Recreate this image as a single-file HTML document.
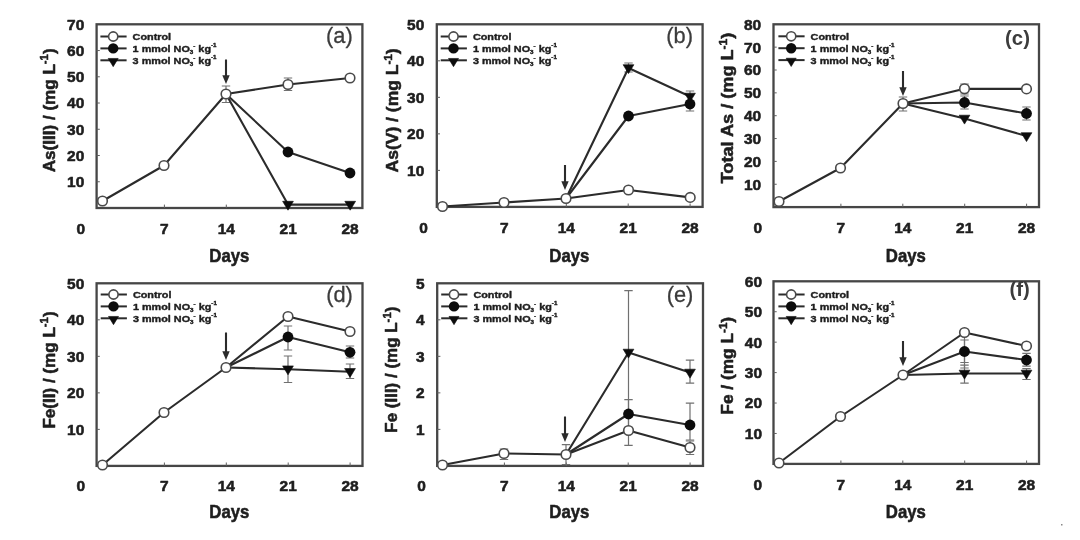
<!DOCTYPE html>
<html><head><meta charset="utf-8"><title>Figure</title>
<style>
html,body{margin:0;padding:0;background:#fff;}
body{width:1080px;height:540px;overflow:hidden;}
svg{display:block;filter:blur(0.5px);font-family:"Liberation Sans",sans-serif;fill:#1e1e1e;}
</style></head><body>
<svg width="1080" height="540" viewBox="0 0 1080 540">
<rect x="0" y="0" width="1080" height="540" fill="#fff"/>
<rect x="96.6" y="24.3" width="265.79999999999995" height="183.7" fill="none" stroke="#464646" stroke-width="2.3"/>
<path d="M96.6,181.75714285714287 L99.8,181.75714285714287" stroke="#606060" stroke-width="1.0"/>
<text transform="translate(84.3,187.15714285714287) scale(1.06,1)" font-size="14.6" font-weight="bold" text-anchor="end" stroke="#1e1e1e" stroke-width="0.55" stroke-linejoin="round" >10</text>
<path d="M96.6,155.51428571428573 L99.8,155.51428571428573" stroke="#606060" stroke-width="1.0"/>
<text transform="translate(84.3,160.91428571428574) scale(1.06,1)" font-size="14.6" font-weight="bold" text-anchor="end" stroke="#1e1e1e" stroke-width="0.55" stroke-linejoin="round" >20</text>
<path d="M96.6,129.2714285714286 L99.8,129.2714285714286" stroke="#606060" stroke-width="1.0"/>
<text transform="translate(84.3,134.6714285714286) scale(1.06,1)" font-size="14.6" font-weight="bold" text-anchor="end" stroke="#1e1e1e" stroke-width="0.55" stroke-linejoin="round" >30</text>
<path d="M96.6,103.02857142857144 L99.8,103.02857142857144" stroke="#606060" stroke-width="1.0"/>
<text transform="translate(84.3,108.42857142857144) scale(1.06,1)" font-size="14.6" font-weight="bold" text-anchor="end" stroke="#1e1e1e" stroke-width="0.55" stroke-linejoin="round" >40</text>
<path d="M96.6,76.78571428571428 L99.8,76.78571428571428" stroke="#606060" stroke-width="1.0"/>
<text transform="translate(84.3,82.18571428571428) scale(1.06,1)" font-size="14.6" font-weight="bold" text-anchor="end" stroke="#1e1e1e" stroke-width="0.55" stroke-linejoin="round" >50</text>
<path d="M96.6,50.54285714285717 L99.8,50.54285714285717" stroke="#606060" stroke-width="1.0"/>
<text transform="translate(84.3,55.94285714285717) scale(1.06,1)" font-size="14.6" font-weight="bold" text-anchor="end" stroke="#1e1e1e" stroke-width="0.55" stroke-linejoin="round" >60</text>
<text transform="translate(84.3,29.70000000000001) scale(1.06,1)" font-size="14.6" font-weight="bold" text-anchor="end" stroke="#1e1e1e" stroke-width="0.55" stroke-linejoin="round" >70</text>
<path d="M164.4,208.0 L164.4,204.6" stroke="#606060" stroke-width="1.0"/>
<text transform="translate(164.4,233.6) scale(1.06,1)" font-size="14.6" font-weight="bold" text-anchor="middle" stroke="#1e1e1e" stroke-width="0.55" stroke-linejoin="round" >7</text>
<path d="M226.3,208.0 L226.3,204.6" stroke="#606060" stroke-width="1.0"/>
<text transform="translate(226.3,233.6) scale(1.06,1)" font-size="14.6" font-weight="bold" text-anchor="middle" stroke="#1e1e1e" stroke-width="0.55" stroke-linejoin="round" >14</text>
<path d="M288.2,208.0 L288.2,204.6" stroke="#606060" stroke-width="1.0"/>
<text transform="translate(288.2,233.6) scale(1.06,1)" font-size="14.6" font-weight="bold" text-anchor="middle" stroke="#1e1e1e" stroke-width="0.55" stroke-linejoin="round" >21</text>
<path d="M350.1,208.0 L350.1,204.6" stroke="#606060" stroke-width="1.0"/>
<text transform="translate(350.1,233.6) scale(1.06,1)" font-size="14.6" font-weight="bold" text-anchor="middle" stroke="#1e1e1e" stroke-width="0.55" stroke-linejoin="round" >28</text>
<text transform="translate(80.89999999999999,233.6) scale(1.06,1)" font-size="14.6" font-weight="bold" text-anchor="middle" stroke="#1e1e1e" stroke-width="0.55" stroke-linejoin="round" >0</text>
<text transform="translate(229.3,262.3) scale(0.93,1)" font-size="18" font-weight="bold" text-anchor="middle" stroke="#1e1e1e" stroke-width="0.55" stroke-linejoin="round" >Days</text>
<text transform="translate(54.5,110.3) rotate(-90) scale(1.035,1)" font-size="16.5" font-weight="bold" text-anchor="middle" stroke="#1e1e1e" stroke-width="0.55" stroke-linejoin="round" >As(III) / (mg L<tspan font-size="11" dy="-6.5">-1</tspan><tspan dy="6.5">)</tspan></text>
<text transform="translate(339.4,42.8) scale(0.97,1)" font-size="22.5" font-weight="normal" text-anchor="middle" stroke="#3c3c3c" stroke-width="0.3" stroke-linejoin="round" fill="#3c3c3c">(a)</text>
<path d="M100.4,36.5 L126.60000000000001,36.5" stroke="#2b2b2b" stroke-width="2.0"/>
<circle cx="113.2" cy="36.5" r="4.6" fill="#fff" stroke="#4a4a4a" stroke-width="1.6"/>
<text transform="translate(132.60000000000002,40.0) scale(1.13,1)" font-size="9.6" font-weight="bold" text-anchor="start" stroke="#1e1e1e" stroke-width="0.4" stroke-linejoin="round" >Control</text>
<path d="M100.4,48.4 L126.60000000000001,48.4" stroke="#2b2b2b" stroke-width="2.0"/>
<circle cx="113.2" cy="48.4" r="5.199999999999999" fill="#0c0c0c"/>
<text transform="translate(132.60000000000002,51.9) scale(1.13,1)" font-size="9.6" font-weight="bold" text-anchor="start" stroke="#1e1e1e" stroke-width="0.4" stroke-linejoin="round" >1 mmol NO<tspan font-size="5.5" dy="2.2">3</tspan><tspan font-size="5.5" dy="-6">-</tspan><tspan dy="3.8"> kg</tspan><tspan font-size="5.5" dy="-4.6">-1</tspan></text>
<path d="M100.4,60.3 L126.60000000000001,60.3" stroke="#2b2b2b" stroke-width="2.0"/>
<path d="M108.2,58.44444444444444 L118.2,58.44444444444444 L113.2,66.68518518518519 Z" fill="#0c0c0c" stroke="#0c0c0c" stroke-width="0.6" stroke-linejoin="round"/>
<text transform="translate(132.60000000000002,63.8) scale(1.13,1)" font-size="9.6" font-weight="bold" text-anchor="start" stroke="#1e1e1e" stroke-width="0.4" stroke-linejoin="round" >3 mmol NO<tspan font-size="5.5" dy="2.2">3</tspan><tspan font-size="5.5" dy="-6">-</tspan><tspan dy="3.8"> kg</tspan><tspan font-size="5.5" dy="-4.6">-1</tspan></text>
<path d="M226,59.5 L226,79" stroke="#2b2b2b" stroke-width="2.1" fill="none"/><path d="M222.3,75.2 L229.7,75.2 L226,84 Z" fill="#2b2b2b"/>
<path d="M226,86 L226,102.5 M221.8,86 L230.2,86 M221.8,102.5 L230.2,102.5" stroke="#707070" stroke-width="1.2" fill="none"/>
<path d="M288,78 L288,90.5 M283.8,78 L292.2,78 M283.8,90.5 L292.2,90.5" stroke="#707070" stroke-width="1.2" fill="none"/>
<polyline points="102.5,201 164,165.5 226,94 288,84.5 350,78" fill="none" stroke="#2b2b2b" stroke-width="2.1" stroke-linejoin="round"/>
<polyline points="226,94 288,152 350,173" fill="none" stroke="#2b2b2b" stroke-width="2.1" stroke-linejoin="round"/>
<polyline points="226,94 288,204.6 350.2,204.6" fill="none" stroke="#2b2b2b" stroke-width="2.1" stroke-linejoin="round"/>
<path d="M282.6,201.29999999999998 L293.4,201.29999999999998 L288,210.2 Z" fill="#0c0c0c" stroke="#0c0c0c" stroke-width="0.6" stroke-linejoin="round"/>
<path d="M344.8,201.29999999999998 L355.59999999999997,201.29999999999998 L350.2,210.2 Z" fill="#0c0c0c" stroke="#0c0c0c" stroke-width="0.6" stroke-linejoin="round"/>
<circle cx="288" cy="152" r="5.3999999999999995" fill="#0c0c0c"/>
<circle cx="350" cy="173" r="5.3999999999999995" fill="#0c0c0c"/>
<circle cx="102.5" cy="201" r="4.8" fill="#fff" stroke="#4a4a4a" stroke-width="1.6"/>
<circle cx="164" cy="165.5" r="4.8" fill="#fff" stroke="#4a4a4a" stroke-width="1.6"/>
<circle cx="226" cy="94" r="4.8" fill="#fff" stroke="#4a4a4a" stroke-width="1.6"/>
<circle cx="288" cy="84.5" r="4.8" fill="#fff" stroke="#4a4a4a" stroke-width="1.6"/>
<circle cx="350" cy="78" r="4.8" fill="#fff" stroke="#4a4a4a" stroke-width="1.6"/>
<rect x="436.8" y="24.3" width="265.8" height="182.6" fill="none" stroke="#464646" stroke-width="2.3"/>
<path d="M436.8,170.38 L440.0,170.38" stroke="#606060" stroke-width="1.0"/>
<text transform="translate(424.3,175.78) scale(1.06,1)" font-size="14.6" font-weight="bold" text-anchor="end" stroke="#1e1e1e" stroke-width="0.55" stroke-linejoin="round" >10</text>
<path d="M436.8,133.86 L440.0,133.86" stroke="#606060" stroke-width="1.0"/>
<text transform="translate(424.3,139.26000000000002) scale(1.06,1)" font-size="14.6" font-weight="bold" text-anchor="end" stroke="#1e1e1e" stroke-width="0.55" stroke-linejoin="round" >20</text>
<path d="M436.8,97.34000000000002 L440.0,97.34000000000002" stroke="#606060" stroke-width="1.0"/>
<text transform="translate(424.3,102.74000000000002) scale(1.06,1)" font-size="14.6" font-weight="bold" text-anchor="end" stroke="#1e1e1e" stroke-width="0.55" stroke-linejoin="round" >30</text>
<path d="M436.8,60.82000000000002 L440.0,60.82000000000002" stroke="#606060" stroke-width="1.0"/>
<text transform="translate(424.3,66.22000000000003) scale(1.06,1)" font-size="14.6" font-weight="bold" text-anchor="end" stroke="#1e1e1e" stroke-width="0.55" stroke-linejoin="round" >40</text>
<text transform="translate(424.3,29.70000000000001) scale(1.06,1)" font-size="14.6" font-weight="bold" text-anchor="end" stroke="#1e1e1e" stroke-width="0.55" stroke-linejoin="round" >50</text>
<path d="M504.4,206.9 L504.4,203.5" stroke="#606060" stroke-width="1.0"/>
<text transform="translate(504.4,233.1) scale(1.06,1)" font-size="14.6" font-weight="bold" text-anchor="middle" stroke="#1e1e1e" stroke-width="0.55" stroke-linejoin="round" >7</text>
<path d="M566.3,206.9 L566.3,203.5" stroke="#606060" stroke-width="1.0"/>
<text transform="translate(566.3,233.1) scale(1.06,1)" font-size="14.6" font-weight="bold" text-anchor="middle" stroke="#1e1e1e" stroke-width="0.55" stroke-linejoin="round" >14</text>
<path d="M628.2,206.9 L628.2,203.5" stroke="#606060" stroke-width="1.0"/>
<text transform="translate(628.2,233.1) scale(1.06,1)" font-size="14.6" font-weight="bold" text-anchor="middle" stroke="#1e1e1e" stroke-width="0.55" stroke-linejoin="round" >21</text>
<path d="M690.1,206.9 L690.1,203.5" stroke="#606060" stroke-width="1.0"/>
<text transform="translate(690.1,233.1) scale(1.06,1)" font-size="14.6" font-weight="bold" text-anchor="middle" stroke="#1e1e1e" stroke-width="0.55" stroke-linejoin="round" >28</text>
<text transform="translate(423.5,233.1) scale(1.06,1)" font-size="14.6" font-weight="bold" text-anchor="middle" stroke="#1e1e1e" stroke-width="0.55" stroke-linejoin="round" >0</text>
<text transform="translate(569.3,262.3) scale(0.93,1)" font-size="18" font-weight="bold" text-anchor="middle" stroke="#1e1e1e" stroke-width="0.55" stroke-linejoin="round" >Days</text>
<text transform="translate(398,110.4) rotate(-90) scale(1.06,1)" font-size="16.5" font-weight="bold" text-anchor="middle" stroke="#1e1e1e" stroke-width="0.55" stroke-linejoin="round" >As(V) / (mg L<tspan font-size="11" dy="-6.5">-1</tspan><tspan dy="6.5">)</tspan></text>
<text transform="translate(679.6,42.8) scale(0.97,1)" font-size="22.5" font-weight="normal" text-anchor="middle" stroke="#3c3c3c" stroke-width="0.3" stroke-linejoin="round" fill="#3c3c3c">(b)</text>
<path d="M440.7,36.5 L466.9,36.5" stroke="#2b2b2b" stroke-width="2.0"/>
<circle cx="453.5" cy="36.5" r="4.6" fill="#fff" stroke="#4a4a4a" stroke-width="1.6"/>
<text transform="translate(472.9,40.0) scale(1.13,1)" font-size="9.6" font-weight="bold" text-anchor="start" stroke="#1e1e1e" stroke-width="0.4" stroke-linejoin="round" >Control</text>
<path d="M440.7,48.4 L466.9,48.4" stroke="#2b2b2b" stroke-width="2.0"/>
<circle cx="453.5" cy="48.4" r="5.199999999999999" fill="#0c0c0c"/>
<text transform="translate(472.9,51.9) scale(1.13,1)" font-size="9.6" font-weight="bold" text-anchor="start" stroke="#1e1e1e" stroke-width="0.4" stroke-linejoin="round" >1 mmol NO<tspan font-size="5.5" dy="2.2">3</tspan><tspan font-size="5.5" dy="-6">-</tspan><tspan dy="3.8"> kg</tspan><tspan font-size="5.5" dy="-4.6">-1</tspan></text>
<path d="M440.7,60.3 L466.9,60.3" stroke="#2b2b2b" stroke-width="2.0"/>
<path d="M448.5,58.44444444444444 L458.5,58.44444444444444 L453.5,66.68518518518519 Z" fill="#0c0c0c" stroke="#0c0c0c" stroke-width="0.6" stroke-linejoin="round"/>
<text transform="translate(472.9,63.8) scale(1.13,1)" font-size="9.6" font-weight="bold" text-anchor="start" stroke="#1e1e1e" stroke-width="0.4" stroke-linejoin="round" >3 mmol NO<tspan font-size="5.5" dy="2.2">3</tspan><tspan font-size="5.5" dy="-6">-</tspan><tspan dy="3.8"> kg</tspan><tspan font-size="5.5" dy="-4.6">-1</tspan></text>
<path d="M565,165 L565,185" stroke="#2b2b2b" stroke-width="2.1" fill="none"/><path d="M561.3,181.2 L568.7,181.2 L565,190 Z" fill="#2b2b2b"/>
<path d="M628.5,63 L628.5,72 M624.3,63 L632.7,63 M624.3,72 L632.7,72" stroke="#707070" stroke-width="1.2" fill="none"/>
<path d="M690,91 L690,111 M685.8,91 L694.2,91 M685.8,111 L694.2,111" stroke="#707070" stroke-width="1.2" fill="none"/>
<polyline points="442.5,206.5 504,202.5 566,198.5 628.5,190 690.2,197.4" fill="none" stroke="#2b2b2b" stroke-width="2.1" stroke-linejoin="round"/>
<polyline points="566,198.5 628.5,116 690,104" fill="none" stroke="#2b2b2b" stroke-width="2.1" stroke-linejoin="round"/>
<polyline points="566,198.5 628.5,68 690,96.5" fill="none" stroke="#2b2b2b" stroke-width="2.1" stroke-linejoin="round"/>
<path d="M623.1,64.7 L633.9,64.7 L628.5,73.6 Z" fill="#0c0c0c" stroke="#0c0c0c" stroke-width="0.6" stroke-linejoin="round"/>
<path d="M684.6,93.2 L695.4,93.2 L690,102.1 Z" fill="#0c0c0c" stroke="#0c0c0c" stroke-width="0.6" stroke-linejoin="round"/>
<circle cx="628.5" cy="116" r="5.3999999999999995" fill="#0c0c0c"/>
<circle cx="690" cy="104" r="5.3999999999999995" fill="#0c0c0c"/>
<circle cx="442.5" cy="206.5" r="4.8" fill="#fff" stroke="#4a4a4a" stroke-width="1.6"/>
<circle cx="504" cy="202.5" r="4.8" fill="#fff" stroke="#4a4a4a" stroke-width="1.6"/>
<circle cx="566" cy="198.5" r="4.8" fill="#fff" stroke="#4a4a4a" stroke-width="1.6"/>
<circle cx="628.5" cy="190" r="4.8" fill="#fff" stroke="#4a4a4a" stroke-width="1.6"/>
<circle cx="690.2" cy="197.4" r="4.8" fill="#fff" stroke="#4a4a4a" stroke-width="1.6"/>
<rect x="773.5" y="24.3" width="265.5" height="182.79999999999998" fill="none" stroke="#464646" stroke-width="2.3"/>
<path d="M773.5,184.25 L776.7,184.25" stroke="#606060" stroke-width="1.0"/>
<text transform="translate(761.2,189.65) scale(1.06,1)" font-size="14.6" font-weight="bold" text-anchor="end" stroke="#1e1e1e" stroke-width="0.55" stroke-linejoin="round" >10</text>
<path d="M773.5,161.4 L776.7,161.4" stroke="#606060" stroke-width="1.0"/>
<text transform="translate(761.2,166.8) scale(1.06,1)" font-size="14.6" font-weight="bold" text-anchor="end" stroke="#1e1e1e" stroke-width="0.55" stroke-linejoin="round" >20</text>
<path d="M773.5,138.55 L776.7,138.55" stroke="#606060" stroke-width="1.0"/>
<text transform="translate(761.2,143.95000000000002) scale(1.06,1)" font-size="14.6" font-weight="bold" text-anchor="end" stroke="#1e1e1e" stroke-width="0.55" stroke-linejoin="round" >30</text>
<path d="M773.5,115.7 L776.7,115.7" stroke="#606060" stroke-width="1.0"/>
<text transform="translate(761.2,121.10000000000001) scale(1.06,1)" font-size="14.6" font-weight="bold" text-anchor="end" stroke="#1e1e1e" stroke-width="0.55" stroke-linejoin="round" >40</text>
<path d="M773.5,92.85000000000001 L776.7,92.85000000000001" stroke="#606060" stroke-width="1.0"/>
<text transform="translate(761.2,98.25000000000001) scale(1.06,1)" font-size="14.6" font-weight="bold" text-anchor="end" stroke="#1e1e1e" stroke-width="0.55" stroke-linejoin="round" >50</text>
<path d="M773.5,70.0 L776.7,70.0" stroke="#606060" stroke-width="1.0"/>
<text transform="translate(761.2,75.4) scale(1.06,1)" font-size="14.6" font-weight="bold" text-anchor="end" stroke="#1e1e1e" stroke-width="0.55" stroke-linejoin="round" >60</text>
<path d="M773.5,47.150000000000006 L776.7,47.150000000000006" stroke="#606060" stroke-width="1.0"/>
<text transform="translate(761.2,52.550000000000004) scale(1.06,1)" font-size="14.6" font-weight="bold" text-anchor="end" stroke="#1e1e1e" stroke-width="0.55" stroke-linejoin="round" >70</text>
<text transform="translate(761.2,29.70000000000001) scale(1.06,1)" font-size="14.6" font-weight="bold" text-anchor="end" stroke="#1e1e1e" stroke-width="0.55" stroke-linejoin="round" >80</text>
<path d="M840.9,207.1 L840.9,203.7" stroke="#606060" stroke-width="1.0"/>
<text transform="translate(840.9,233.0) scale(1.06,1)" font-size="14.6" font-weight="bold" text-anchor="middle" stroke="#1e1e1e" stroke-width="0.55" stroke-linejoin="round" >7</text>
<path d="M902.8,207.1 L902.8,203.7" stroke="#606060" stroke-width="1.0"/>
<text transform="translate(902.8,233.0) scale(1.06,1)" font-size="14.6" font-weight="bold" text-anchor="middle" stroke="#1e1e1e" stroke-width="0.55" stroke-linejoin="round" >14</text>
<path d="M964.7,207.1 L964.7,203.7" stroke="#606060" stroke-width="1.0"/>
<text transform="translate(964.7,233.0) scale(1.06,1)" font-size="14.6" font-weight="bold" text-anchor="middle" stroke="#1e1e1e" stroke-width="0.55" stroke-linejoin="round" >21</text>
<path d="M1026.6,207.1 L1026.6,203.7" stroke="#606060" stroke-width="1.0"/>
<text transform="translate(1026.6,233.0) scale(1.06,1)" font-size="14.6" font-weight="bold" text-anchor="middle" stroke="#1e1e1e" stroke-width="0.55" stroke-linejoin="round" >28</text>
<text transform="translate(757.8,233.0) scale(1.06,1)" font-size="14.6" font-weight="bold" text-anchor="middle" stroke="#1e1e1e" stroke-width="0.55" stroke-linejoin="round" >0</text>
<text transform="translate(905.8,262.3) scale(0.93,1)" font-size="18" font-weight="bold" text-anchor="middle" stroke="#1e1e1e" stroke-width="0.55" stroke-linejoin="round" >Days</text>
<text transform="translate(733,108) rotate(-90) scale(1.1,1)" font-size="16.5" font-weight="bold" text-anchor="middle" stroke="#1e1e1e" stroke-width="0.55" stroke-linejoin="round" >Total As / (mg L<tspan font-size="11" dy="-6.5">-1</tspan><tspan dy="6.5">)</tspan></text>
<text transform="translate(1017.5,44.6) scale(0.97,1)" font-size="21" font-weight="bold" text-anchor="middle" stroke="#3c3c3c" stroke-width="0" stroke-linejoin="round" fill="#3c3c3c">(c)</text>
<path d="M778.4,36.3 L804.6,36.3" stroke="#2b2b2b" stroke-width="2.0"/>
<circle cx="791.1999999999999" cy="36.3" r="4.6" fill="#fff" stroke="#4a4a4a" stroke-width="1.6"/>
<text transform="translate(810.6,39.8) scale(1.13,1)" font-size="9.6" font-weight="bold" text-anchor="start" stroke="#1e1e1e" stroke-width="0.4" stroke-linejoin="round" >Control</text>
<path d="M778.4,48.199999999999996 L804.6,48.199999999999996" stroke="#2b2b2b" stroke-width="2.0"/>
<circle cx="791.1999999999999" cy="48.199999999999996" r="5.199999999999999" fill="#0c0c0c"/>
<text transform="translate(810.6,51.699999999999996) scale(1.13,1)" font-size="9.6" font-weight="bold" text-anchor="start" stroke="#1e1e1e" stroke-width="0.4" stroke-linejoin="round" >1 mmol NO<tspan font-size="5.5" dy="2.2">3</tspan><tspan font-size="5.5" dy="-6">-</tspan><tspan dy="3.8"> kg</tspan><tspan font-size="5.5" dy="-4.6">-1</tspan></text>
<path d="M778.4,60.099999999999994 L804.6,60.099999999999994" stroke="#2b2b2b" stroke-width="2.0"/>
<path d="M786.1999999999999,58.24444444444444 L796.1999999999999,58.24444444444444 L791.1999999999999,66.48518518518519 Z" fill="#0c0c0c" stroke="#0c0c0c" stroke-width="0.6" stroke-linejoin="round"/>
<text transform="translate(810.6,63.599999999999994) scale(1.13,1)" font-size="9.6" font-weight="bold" text-anchor="start" stroke="#1e1e1e" stroke-width="0.4" stroke-linejoin="round" >3 mmol NO<tspan font-size="5.5" dy="2.2">3</tspan><tspan font-size="5.5" dy="-6">-</tspan><tspan dy="3.8"> kg</tspan><tspan font-size="5.5" dy="-4.6">-1</tspan></text>
<path d="M903,71 L903,91" stroke="#2b2b2b" stroke-width="2.1" fill="none"/><path d="M899.3,87.2 L906.7,87.2 L903,96 Z" fill="#2b2b2b"/>
<path d="M903,97 L903,111 M898.8,97 L907.2,97 M898.8,111 L907.2,111" stroke="#707070" stroke-width="1.2" fill="none"/>
<path d="M964.5,84 L964.5,94 M960.3,84 L968.7,84 M960.3,94 L968.7,94" stroke="#707070" stroke-width="1.2" fill="none"/>
<path d="M964.5,96 L964.5,109 M960.3,96 L968.7,96 M960.3,109 L968.7,109" stroke="#707070" stroke-width="1.2" fill="none"/>
<path d="M1026.5,107 L1026.5,120 M1022.3,107 L1030.7,107 M1022.3,120 L1030.7,120" stroke="#707070" stroke-width="1.2" fill="none"/>
<polyline points="779,201.5 840.5,168 903,103.5 964.5,88.8 1026.5,88.9" fill="none" stroke="#2b2b2b" stroke-width="2.1" stroke-linejoin="round"/>
<polyline points="903,103.5 964.5,102.5 1026.5,113.5" fill="none" stroke="#2b2b2b" stroke-width="2.1" stroke-linejoin="round"/>
<polyline points="903,103.5 964.5,118.5 1026.5,136" fill="none" stroke="#2b2b2b" stroke-width="2.1" stroke-linejoin="round"/>
<path d="M959.1,115.2 L969.9,115.2 L964.5,124.1 Z" fill="#0c0c0c" stroke="#0c0c0c" stroke-width="0.6" stroke-linejoin="round"/>
<path d="M1021.1,132.7 L1031.9,132.7 L1026.5,141.6 Z" fill="#0c0c0c" stroke="#0c0c0c" stroke-width="0.6" stroke-linejoin="round"/>
<circle cx="964.5" cy="102.5" r="5.3999999999999995" fill="#0c0c0c"/>
<circle cx="1026.5" cy="113.5" r="5.3999999999999995" fill="#0c0c0c"/>
<circle cx="779" cy="201.5" r="4.8" fill="#fff" stroke="#4a4a4a" stroke-width="1.6"/>
<circle cx="840.5" cy="168" r="4.8" fill="#fff" stroke="#4a4a4a" stroke-width="1.6"/>
<circle cx="903" cy="103.5" r="4.8" fill="#fff" stroke="#4a4a4a" stroke-width="1.6"/>
<circle cx="964.5" cy="88.8" r="4.8" fill="#fff" stroke="#4a4a4a" stroke-width="1.6"/>
<circle cx="1026.5" cy="88.9" r="4.8" fill="#fff" stroke="#4a4a4a" stroke-width="1.6"/>
<rect x="96.6" y="283.3" width="265.9" height="182.59999999999997" fill="none" stroke="#464646" stroke-width="2.3"/>
<path d="M96.6,429.38 L99.8,429.38" stroke="#606060" stroke-width="1.0"/>
<text transform="translate(84.3,434.78) scale(1.06,1)" font-size="14.6" font-weight="bold" text-anchor="end" stroke="#1e1e1e" stroke-width="0.55" stroke-linejoin="round" >10</text>
<path d="M96.6,392.86 L99.8,392.86" stroke="#606060" stroke-width="1.0"/>
<text transform="translate(84.3,398.26) scale(1.06,1)" font-size="14.6" font-weight="bold" text-anchor="end" stroke="#1e1e1e" stroke-width="0.55" stroke-linejoin="round" >20</text>
<path d="M96.6,356.34 L99.8,356.34" stroke="#606060" stroke-width="1.0"/>
<text transform="translate(84.3,361.73999999999995) scale(1.06,1)" font-size="14.6" font-weight="bold" text-anchor="end" stroke="#1e1e1e" stroke-width="0.55" stroke-linejoin="round" >30</text>
<path d="M96.6,319.82 L99.8,319.82" stroke="#606060" stroke-width="1.0"/>
<text transform="translate(84.3,325.21999999999997) scale(1.06,1)" font-size="14.6" font-weight="bold" text-anchor="end" stroke="#1e1e1e" stroke-width="0.55" stroke-linejoin="round" >40</text>
<text transform="translate(84.3,288.7) scale(1.06,1)" font-size="14.6" font-weight="bold" text-anchor="end" stroke="#1e1e1e" stroke-width="0.55" stroke-linejoin="round" >50</text>
<path d="M164.4,465.9 L164.4,462.5" stroke="#606060" stroke-width="1.0"/>
<text transform="translate(164.4,490.8) scale(1.06,1)" font-size="14.6" font-weight="bold" text-anchor="middle" stroke="#1e1e1e" stroke-width="0.55" stroke-linejoin="round" >7</text>
<path d="M226.3,465.9 L226.3,462.5" stroke="#606060" stroke-width="1.0"/>
<text transform="translate(226.3,490.8) scale(1.06,1)" font-size="14.6" font-weight="bold" text-anchor="middle" stroke="#1e1e1e" stroke-width="0.55" stroke-linejoin="round" >14</text>
<path d="M288.2,465.9 L288.2,462.5" stroke="#606060" stroke-width="1.0"/>
<text transform="translate(288.2,490.8) scale(1.06,1)" font-size="14.6" font-weight="bold" text-anchor="middle" stroke="#1e1e1e" stroke-width="0.55" stroke-linejoin="round" >21</text>
<path d="M350.1,465.9 L350.1,462.5" stroke="#606060" stroke-width="1.0"/>
<text transform="translate(350.1,490.8) scale(1.06,1)" font-size="14.6" font-weight="bold" text-anchor="middle" stroke="#1e1e1e" stroke-width="0.55" stroke-linejoin="round" >28</text>
<text transform="translate(80.89999999999999,490.8) scale(1.06,1)" font-size="14.6" font-weight="bold" text-anchor="middle" stroke="#1e1e1e" stroke-width="0.55" stroke-linejoin="round" >0</text>
<text transform="translate(229.3,517.8) scale(0.93,1)" font-size="18" font-weight="bold" text-anchor="middle" stroke="#1e1e1e" stroke-width="0.55" stroke-linejoin="round" >Days</text>
<text transform="translate(54.5,370) rotate(-90) scale(1.035,1)" font-size="16.5" font-weight="bold" text-anchor="middle" stroke="#1e1e1e" stroke-width="0.55" stroke-linejoin="round" >Fe(II) / (mg L<tspan font-size="11" dy="-6.5">-1</tspan><tspan dy="6.5">)</tspan></text>
<text transform="translate(339.5,301.8) scale(0.97,1)" font-size="22.5" font-weight="normal" text-anchor="middle" stroke="#3c3c3c" stroke-width="0.3" stroke-linejoin="round" fill="#3c3c3c">(d)</text>
<path d="M100.7,294.5 L126.9,294.5" stroke="#2b2b2b" stroke-width="2.0"/>
<circle cx="113.5" cy="294.5" r="4.6" fill="#fff" stroke="#4a4a4a" stroke-width="1.6"/>
<text transform="translate(132.9,298.0) scale(1.13,1)" font-size="9.6" font-weight="bold" text-anchor="start" stroke="#1e1e1e" stroke-width="0.4" stroke-linejoin="round" >Control</text>
<path d="M100.7,306.4 L126.9,306.4" stroke="#2b2b2b" stroke-width="2.0"/>
<circle cx="113.5" cy="306.4" r="5.199999999999999" fill="#0c0c0c"/>
<text transform="translate(132.9,309.9) scale(1.13,1)" font-size="9.6" font-weight="bold" text-anchor="start" stroke="#1e1e1e" stroke-width="0.4" stroke-linejoin="round" >1 mmol NO<tspan font-size="5.5" dy="2.2">3</tspan><tspan font-size="5.5" dy="-6">-</tspan><tspan dy="3.8"> kg</tspan><tspan font-size="5.5" dy="-4.6">-1</tspan></text>
<path d="M100.7,318.3 L126.9,318.3" stroke="#2b2b2b" stroke-width="2.0"/>
<path d="M108.5,316.44444444444446 L118.5,316.44444444444446 L113.5,324.68518518518516 Z" fill="#0c0c0c" stroke="#0c0c0c" stroke-width="0.6" stroke-linejoin="round"/>
<text transform="translate(132.9,321.8) scale(1.13,1)" font-size="9.6" font-weight="bold" text-anchor="start" stroke="#1e1e1e" stroke-width="0.4" stroke-linejoin="round" >3 mmol NO<tspan font-size="5.5" dy="2.2">3</tspan><tspan font-size="5.5" dy="-6">-</tspan><tspan dy="3.8"> kg</tspan><tspan font-size="5.5" dy="-4.6">-1</tspan></text>
<path d="M226,332.5 L226,355" stroke="#2b2b2b" stroke-width="2.1" fill="none"/><path d="M222.3,351.2 L229.7,351.2 L226,360 Z" fill="#2b2b2b"/>
<path d="M288,326 L288,350 M283.8,326 L292.2,326 M283.8,350 L292.2,350" stroke="#707070" stroke-width="1.2" fill="none"/>
<path d="M288,356 L288,382.5 M283.8,356 L292.2,356 M283.8,382.5 L292.2,382.5" stroke="#707070" stroke-width="1.2" fill="none"/>
<path d="M350,346 L350,358 M345.8,346 L354.2,346 M345.8,358 L354.2,358" stroke="#707070" stroke-width="1.2" fill="none"/>
<path d="M350,364 L350,378.5 M345.8,364 L354.2,364 M345.8,378.5 L354.2,378.5" stroke="#707070" stroke-width="1.2" fill="none"/>
<polyline points="102.5,465 164,412.5 226,367.5 288,316.5 350,331.5" fill="none" stroke="#2b2b2b" stroke-width="2.1" stroke-linejoin="round"/>
<polyline points="226,367.5 288,337 350,352.3" fill="none" stroke="#2b2b2b" stroke-width="2.1" stroke-linejoin="round"/>
<polyline points="226,367.5 288,369.2 350,371.8" fill="none" stroke="#2b2b2b" stroke-width="2.1" stroke-linejoin="round"/>
<path d="M282.6,365.9 L293.4,365.9 L288,374.8 Z" fill="#0c0c0c" stroke="#0c0c0c" stroke-width="0.6" stroke-linejoin="round"/>
<path d="M344.6,368.5 L355.4,368.5 L350,377.40000000000003 Z" fill="#0c0c0c" stroke="#0c0c0c" stroke-width="0.6" stroke-linejoin="round"/>
<circle cx="288" cy="337" r="5.3999999999999995" fill="#0c0c0c"/>
<circle cx="350" cy="352.3" r="5.3999999999999995" fill="#0c0c0c"/>
<circle cx="102.5" cy="465" r="4.8" fill="#fff" stroke="#4a4a4a" stroke-width="1.6"/>
<circle cx="164" cy="412.5" r="4.8" fill="#fff" stroke="#4a4a4a" stroke-width="1.6"/>
<circle cx="226" cy="367.5" r="4.8" fill="#fff" stroke="#4a4a4a" stroke-width="1.6"/>
<circle cx="288" cy="316.5" r="4.8" fill="#fff" stroke="#4a4a4a" stroke-width="1.6"/>
<circle cx="350" cy="331.5" r="4.8" fill="#fff" stroke="#4a4a4a" stroke-width="1.6"/>
<rect x="437.2" y="283.3" width="265.8" height="182.59999999999997" fill="none" stroke="#464646" stroke-width="2.3"/>
<path d="M437.2,429.38 L440.4,429.38" stroke="#606060" stroke-width="1.0"/>
<text transform="translate(424.5,434.78) scale(1.06,1)" font-size="14.6" font-weight="bold" text-anchor="end" stroke="#1e1e1e" stroke-width="0.55" stroke-linejoin="round" >1</text>
<path d="M437.2,392.86 L440.4,392.86" stroke="#606060" stroke-width="1.0"/>
<text transform="translate(424.5,398.26) scale(1.06,1)" font-size="14.6" font-weight="bold" text-anchor="end" stroke="#1e1e1e" stroke-width="0.55" stroke-linejoin="round" >2</text>
<path d="M437.2,356.34 L440.4,356.34" stroke="#606060" stroke-width="1.0"/>
<text transform="translate(424.5,361.73999999999995) scale(1.06,1)" font-size="14.6" font-weight="bold" text-anchor="end" stroke="#1e1e1e" stroke-width="0.55" stroke-linejoin="round" >3</text>
<path d="M437.2,319.82 L440.4,319.82" stroke="#606060" stroke-width="1.0"/>
<text transform="translate(424.5,325.21999999999997) scale(1.06,1)" font-size="14.6" font-weight="bold" text-anchor="end" stroke="#1e1e1e" stroke-width="0.55" stroke-linejoin="round" >4</text>
<text transform="translate(424.5,288.7) scale(1.06,1)" font-size="14.6" font-weight="bold" text-anchor="end" stroke="#1e1e1e" stroke-width="0.55" stroke-linejoin="round" >5</text>
<path d="M504.4,465.9 L504.4,462.5" stroke="#606060" stroke-width="1.0"/>
<text transform="translate(504.4,490.8) scale(1.06,1)" font-size="14.6" font-weight="bold" text-anchor="middle" stroke="#1e1e1e" stroke-width="0.55" stroke-linejoin="round" >7</text>
<path d="M566.3,465.9 L566.3,462.5" stroke="#606060" stroke-width="1.0"/>
<text transform="translate(566.3,490.8) scale(1.06,1)" font-size="14.6" font-weight="bold" text-anchor="middle" stroke="#1e1e1e" stroke-width="0.55" stroke-linejoin="round" >14</text>
<path d="M628.2,465.9 L628.2,462.5" stroke="#606060" stroke-width="1.0"/>
<text transform="translate(628.2,490.8) scale(1.06,1)" font-size="14.6" font-weight="bold" text-anchor="middle" stroke="#1e1e1e" stroke-width="0.55" stroke-linejoin="round" >21</text>
<path d="M690.1,465.9 L690.1,462.5" stroke="#606060" stroke-width="1.0"/>
<text transform="translate(690.1,490.8) scale(1.06,1)" font-size="14.6" font-weight="bold" text-anchor="middle" stroke="#1e1e1e" stroke-width="0.55" stroke-linejoin="round" >28</text>
<text transform="translate(421.5,490.8) scale(1.06,1)" font-size="14.6" font-weight="bold" text-anchor="middle" stroke="#1e1e1e" stroke-width="0.55" stroke-linejoin="round" >0</text>
<text transform="translate(569.3,517.8) scale(0.93,1)" font-size="18" font-weight="bold" text-anchor="middle" stroke="#1e1e1e" stroke-width="0.55" stroke-linejoin="round" >Days</text>
<text transform="translate(397,369.7) rotate(-90) scale(1.03,1)" font-size="16.5" font-weight="bold" text-anchor="middle" stroke="#1e1e1e" stroke-width="0.55" stroke-linejoin="round" >Fe (III) / (mg L<tspan font-size="11" dy="-6.5">-1</tspan><tspan dy="6.5">)</tspan></text>
<text transform="translate(680.0,301.8) scale(0.97,1)" font-size="22.5" font-weight="normal" text-anchor="middle" stroke="#3c3c3c" stroke-width="0.3" stroke-linejoin="round" fill="#3c3c3c">(e)</text>
<path d="M441.2,294.5 L467.4,294.5" stroke="#2b2b2b" stroke-width="2.0"/>
<circle cx="454.0" cy="294.5" r="4.6" fill="#fff" stroke="#4a4a4a" stroke-width="1.6"/>
<text transform="translate(473.4,298.0) scale(1.13,1)" font-size="9.6" font-weight="bold" text-anchor="start" stroke="#1e1e1e" stroke-width="0.4" stroke-linejoin="round" >Control</text>
<path d="M441.2,306.4 L467.4,306.4" stroke="#2b2b2b" stroke-width="2.0"/>
<circle cx="454.0" cy="306.4" r="5.199999999999999" fill="#0c0c0c"/>
<text transform="translate(473.4,309.9) scale(1.13,1)" font-size="9.6" font-weight="bold" text-anchor="start" stroke="#1e1e1e" stroke-width="0.4" stroke-linejoin="round" >1 mmol NO<tspan font-size="5.5" dy="2.2">3</tspan><tspan font-size="5.5" dy="-6">-</tspan><tspan dy="3.8"> kg</tspan><tspan font-size="5.5" dy="-4.6">-1</tspan></text>
<path d="M441.2,318.3 L467.4,318.3" stroke="#2b2b2b" stroke-width="2.0"/>
<path d="M449.0,316.44444444444446 L459.0,316.44444444444446 L454.0,324.68518518518516 Z" fill="#0c0c0c" stroke="#0c0c0c" stroke-width="0.6" stroke-linejoin="round"/>
<text transform="translate(473.4,321.8) scale(1.13,1)" font-size="9.6" font-weight="bold" text-anchor="start" stroke="#1e1e1e" stroke-width="0.4" stroke-linejoin="round" >3 mmol NO<tspan font-size="5.5" dy="2.2">3</tspan><tspan font-size="5.5" dy="-6">-</tspan><tspan dy="3.8"> kg</tspan><tspan font-size="5.5" dy="-4.6">-1</tspan></text>
<path d="M565,416.5 L565,437" stroke="#2b2b2b" stroke-width="2.1" fill="none"/><path d="M561.3,433.2 L568.7,433.2 L565,442 Z" fill="#2b2b2b"/>
<path d="M628.5,290.6 L628.5,414 M624.3,290.6 L632.7,290.6 M624.3,414 L632.7,414" stroke="#707070" stroke-width="1.2" fill="none"/>
<path d="M628.5,399.6 L628.5,429 M624.3,399.6 L632.7,399.6 M624.3,429 L632.7,429" stroke="#707070" stroke-width="1.2" fill="none"/>
<path d="M628.5,416.6 L628.5,445.4 M624.3,416.6 L632.7,416.6 M624.3,445.4 L632.7,445.4" stroke="#707070" stroke-width="1.2" fill="none"/>
<path d="M690,360.2 L690,383.1 M685.8,360.2 L694.2,360.2 M685.8,383.1 L694.2,383.1" stroke="#707070" stroke-width="1.2" fill="none"/>
<path d="M690,403.2 L690,440 M685.8,403.2 L694.2,403.2 M685.8,440 L694.2,440" stroke="#707070" stroke-width="1.2" fill="none"/>
<path d="M504,449 L504,459.5 M499.8,449 L508.2,449 M499.8,459.5 L508.2,459.5" stroke="#707070" stroke-width="1.2" fill="none"/>
<path d="M566,444.7 L566,464.7 M561.8,444.7 L570.2,444.7 M561.8,464.7 L570.2,464.7" stroke="#707070" stroke-width="1.2" fill="none"/>
<path d="M690,441 L690,454.5 M685.8,441 L694.2,441 M685.8,454.5 L694.2,454.5" stroke="#707070" stroke-width="1.2" fill="none"/>
<polyline points="442.5,465 504,453.5 566,454.5 628.5,430.5 690,447.5" fill="none" stroke="#2b2b2b" stroke-width="2.1" stroke-linejoin="round"/>
<polyline points="566,454.5 628.5,414 690,425" fill="none" stroke="#2b2b2b" stroke-width="2.1" stroke-linejoin="round"/>
<polyline points="566,454.5 628.5,352.5 690,372.5" fill="none" stroke="#2b2b2b" stroke-width="2.1" stroke-linejoin="round"/>
<path d="M623.1,349.2 L633.9,349.2 L628.5,358.1 Z" fill="#0c0c0c" stroke="#0c0c0c" stroke-width="0.6" stroke-linejoin="round"/>
<path d="M684.6,369.2 L695.4,369.2 L690,378.1 Z" fill="#0c0c0c" stroke="#0c0c0c" stroke-width="0.6" stroke-linejoin="round"/>
<circle cx="628.5" cy="414" r="5.3999999999999995" fill="#0c0c0c"/>
<circle cx="690" cy="425" r="5.3999999999999995" fill="#0c0c0c"/>
<circle cx="442.5" cy="465" r="4.8" fill="#fff" stroke="#4a4a4a" stroke-width="1.6"/>
<circle cx="504" cy="453.5" r="4.8" fill="#fff" stroke="#4a4a4a" stroke-width="1.6"/>
<circle cx="566" cy="454.5" r="4.8" fill="#fff" stroke="#4a4a4a" stroke-width="1.6"/>
<circle cx="628.5" cy="430.5" r="4.8" fill="#fff" stroke="#4a4a4a" stroke-width="1.6"/>
<circle cx="690" cy="447.5" r="4.8" fill="#fff" stroke="#4a4a4a" stroke-width="1.6"/>
<rect x="773.5" y="281.3" width="265.5" height="182.59999999999997" fill="none" stroke="#464646" stroke-width="2.3"/>
<path d="M773.5,433.46666666666664 L776.7,433.46666666666664" stroke="#606060" stroke-width="1.0"/>
<text transform="translate(762.0,438.8666666666666) scale(1.06,1)" font-size="14.6" font-weight="bold" text-anchor="end" stroke="#1e1e1e" stroke-width="0.55" stroke-linejoin="round" >10</text>
<path d="M773.5,403.0333333333333 L776.7,403.0333333333333" stroke="#606060" stroke-width="1.0"/>
<text transform="translate(762.0,408.4333333333333) scale(1.06,1)" font-size="14.6" font-weight="bold" text-anchor="end" stroke="#1e1e1e" stroke-width="0.55" stroke-linejoin="round" >20</text>
<path d="M773.5,372.59999999999997 L776.7,372.59999999999997" stroke="#606060" stroke-width="1.0"/>
<text transform="translate(762.0,377.99999999999994) scale(1.06,1)" font-size="14.6" font-weight="bold" text-anchor="end" stroke="#1e1e1e" stroke-width="0.55" stroke-linejoin="round" >30</text>
<path d="M773.5,342.1666666666667 L776.7,342.1666666666667" stroke="#606060" stroke-width="1.0"/>
<text transform="translate(762.0,347.56666666666666) scale(1.06,1)" font-size="14.6" font-weight="bold" text-anchor="end" stroke="#1e1e1e" stroke-width="0.55" stroke-linejoin="round" >40</text>
<path d="M773.5,311.73333333333335 L776.7,311.73333333333335" stroke="#606060" stroke-width="1.0"/>
<text transform="translate(762.0,317.1333333333333) scale(1.06,1)" font-size="14.6" font-weight="bold" text-anchor="end" stroke="#1e1e1e" stroke-width="0.55" stroke-linejoin="round" >50</text>
<text transform="translate(762.0,286.69999999999993) scale(1.06,1)" font-size="14.6" font-weight="bold" text-anchor="end" stroke="#1e1e1e" stroke-width="0.55" stroke-linejoin="round" >60</text>
<path d="M840.9,463.9 L840.9,460.5" stroke="#606060" stroke-width="1.0"/>
<text transform="translate(840.9,489.6) scale(1.06,1)" font-size="14.6" font-weight="bold" text-anchor="middle" stroke="#1e1e1e" stroke-width="0.55" stroke-linejoin="round" >7</text>
<path d="M902.8,463.9 L902.8,460.5" stroke="#606060" stroke-width="1.0"/>
<text transform="translate(902.8,489.6) scale(1.06,1)" font-size="14.6" font-weight="bold" text-anchor="middle" stroke="#1e1e1e" stroke-width="0.55" stroke-linejoin="round" >14</text>
<path d="M964.7,463.9 L964.7,460.5" stroke="#606060" stroke-width="1.0"/>
<text transform="translate(964.7,489.6) scale(1.06,1)" font-size="14.6" font-weight="bold" text-anchor="middle" stroke="#1e1e1e" stroke-width="0.55" stroke-linejoin="round" >21</text>
<path d="M1026.6,463.9 L1026.6,460.5" stroke="#606060" stroke-width="1.0"/>
<text transform="translate(1026.6,489.6) scale(1.06,1)" font-size="14.6" font-weight="bold" text-anchor="middle" stroke="#1e1e1e" stroke-width="0.55" stroke-linejoin="round" >28</text>
<text transform="translate(757.8,489.6) scale(1.06,1)" font-size="14.6" font-weight="bold" text-anchor="middle" stroke="#1e1e1e" stroke-width="0.55" stroke-linejoin="round" >0</text>
<text transform="translate(905.8,517.8) scale(0.93,1)" font-size="18" font-weight="bold" text-anchor="middle" stroke="#1e1e1e" stroke-width="0.55" stroke-linejoin="round" >Days</text>
<text transform="translate(733,365.8) rotate(-90) scale(1.05,1)" font-size="16.5" font-weight="bold" text-anchor="middle" stroke="#1e1e1e" stroke-width="0.55" stroke-linejoin="round" >Fe / (mg L<tspan font-size="11" dy="-6.5">-1</tspan><tspan dy="6.5">)</tspan></text>
<text transform="translate(1019.7,296.1) scale(0.97,1)" font-size="21" font-weight="bold" text-anchor="middle" stroke="#3c3c3c" stroke-width="0" stroke-linejoin="round" fill="#3c3c3c">(f)</text>
<path d="M778.4,294.5 L804.6,294.5" stroke="#2b2b2b" stroke-width="2.0"/>
<circle cx="791.1999999999999" cy="294.5" r="4.6" fill="#fff" stroke="#4a4a4a" stroke-width="1.6"/>
<text transform="translate(810.6,298.0) scale(1.13,1)" font-size="9.6" font-weight="bold" text-anchor="start" stroke="#1e1e1e" stroke-width="0.4" stroke-linejoin="round" >Control</text>
<path d="M778.4,306.4 L804.6,306.4" stroke="#2b2b2b" stroke-width="2.0"/>
<circle cx="791.1999999999999" cy="306.4" r="5.199999999999999" fill="#0c0c0c"/>
<text transform="translate(810.6,309.9) scale(1.13,1)" font-size="9.6" font-weight="bold" text-anchor="start" stroke="#1e1e1e" stroke-width="0.4" stroke-linejoin="round" >1 mmol NO<tspan font-size="5.5" dy="2.2">3</tspan><tspan font-size="5.5" dy="-6">-</tspan><tspan dy="3.8"> kg</tspan><tspan font-size="5.5" dy="-4.6">-1</tspan></text>
<path d="M778.4,318.3 L804.6,318.3" stroke="#2b2b2b" stroke-width="2.0"/>
<path d="M786.1999999999999,316.44444444444446 L796.1999999999999,316.44444444444446 L791.1999999999999,324.68518518518516 Z" fill="#0c0c0c" stroke="#0c0c0c" stroke-width="0.6" stroke-linejoin="round"/>
<text transform="translate(810.6,321.8) scale(1.13,1)" font-size="9.6" font-weight="bold" text-anchor="start" stroke="#1e1e1e" stroke-width="0.4" stroke-linejoin="round" >3 mmol NO<tspan font-size="5.5" dy="2.2">3</tspan><tspan font-size="5.5" dy="-6">-</tspan><tspan dy="3.8"> kg</tspan><tspan font-size="5.5" dy="-4.6">-1</tspan></text>
<path d="M903,341 L903,361" stroke="#2b2b2b" stroke-width="2.1" fill="none"/><path d="M899.3,357.2 L906.7,357.2 L903,366 Z" fill="#2b2b2b"/>
<path d="M964.5,334 L964.5,362.5 M960.3,334 L968.7,334 M960.3,362.5 L968.7,362.5" stroke="#707070" stroke-width="1.2" fill="none"/>
<path d="M964.5,365.2 L964.5,383.2 M960.3,365.2 L968.7,365.2 M960.3,383.2 L968.7,383.2" stroke="#707070" stroke-width="1.2" fill="none"/>
<path d="M964.5,340 L964.5,368 M960.3,340 L968.7,340 M960.3,368 L968.7,368" stroke="#707070" stroke-width="1.2" fill="none"/>
<path d="M1026.5,353.3 L1026.5,366.2 M1022.3,353.3 L1030.7,353.3 M1022.3,366.2 L1030.7,366.2" stroke="#707070" stroke-width="1.2" fill="none"/>
<path d="M1026.5,368.6 L1026.5,379.5 M1022.3,368.6 L1030.7,368.6 M1022.3,379.5 L1030.7,379.5" stroke="#707070" stroke-width="1.2" fill="none"/>
<polyline points="779,463 840.5,416.5 903,375 964.5,332.5 1026.5,346" fill="none" stroke="#2b2b2b" stroke-width="2.1" stroke-linejoin="round"/>
<polyline points="903,375 964.5,351.5 1026.5,360" fill="none" stroke="#2b2b2b" stroke-width="2.1" stroke-linejoin="round"/>
<polyline points="903,375 964.5,373.5 1026.5,373.5" fill="none" stroke="#2b2b2b" stroke-width="2.1" stroke-linejoin="round"/>
<path d="M959.1,370.2 L969.9,370.2 L964.5,379.1 Z" fill="#0c0c0c" stroke="#0c0c0c" stroke-width="0.6" stroke-linejoin="round"/>
<path d="M1021.1,370.2 L1031.9,370.2 L1026.5,379.1 Z" fill="#0c0c0c" stroke="#0c0c0c" stroke-width="0.6" stroke-linejoin="round"/>
<circle cx="964.5" cy="351.5" r="5.3999999999999995" fill="#0c0c0c"/>
<circle cx="1026.5" cy="360" r="5.3999999999999995" fill="#0c0c0c"/>
<circle cx="779" cy="463" r="4.8" fill="#fff" stroke="#4a4a4a" stroke-width="1.6"/>
<circle cx="840.5" cy="416.5" r="4.8" fill="#fff" stroke="#4a4a4a" stroke-width="1.6"/>
<circle cx="903" cy="375" r="4.8" fill="#fff" stroke="#4a4a4a" stroke-width="1.6"/>
<circle cx="964.5" cy="332.5" r="4.8" fill="#fff" stroke="#4a4a4a" stroke-width="1.6"/>
<circle cx="1026.5" cy="346" r="4.8" fill="#fff" stroke="#4a4a4a" stroke-width="1.6"/>
<rect x="1061" y="524" width="1.5" height="1.5" fill="#888"/>
</svg>
</body></html>
